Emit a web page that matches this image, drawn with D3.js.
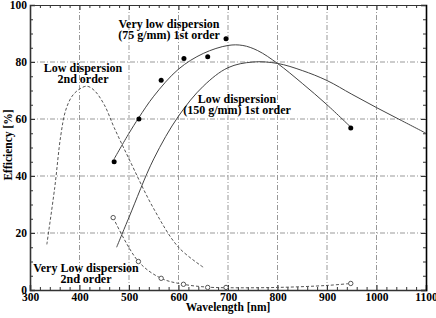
<!DOCTYPE html>
<html>
<head>
<meta charset="utf-8">
<script src="https://cdn.jsdelivr.net/npm/d3@7/dist/d3.min.js"></script>
<style>
  body { margin: 0; background: #fff; }
  text { font-family: "Liberation Serif", "Times New Roman", serif; font-weight: bold; fill: #000; }
</style>
</head>
<body>
<svg id="chart" width="436" height="318"></svg>
<script>
"use strict";

// tick values
var xTicks = [300, 400, 500, 600, 700, 800, 900, 1000, 1100],
    yTicks = [0, 20, 40, 60, 80, 100];

// Very low dispersion (75 g/mm) 1st order: measured points and fit
var vld1Points = [[470, 45], [520, 60], [565, 73.6], [611, 81.2], [659, 81.8], [696, 88.2], [948, 56.8]];
var vld1Curve = [[470, 46], [500, 55], [520, 60.5], [550, 68], [600, 77.5], [650, 83], [700, 85.8],
                 [730, 85.8], [760, 84], [800, 79.5], [850, 72.5], [900, 65], [950, 56.8]];

// Low dispersion (150 g/mm) 1st order: fit only
var ld1Curve = [[475, 15], [500, 25.5], [550, 46], [600, 61], [650, 71.5], [700, 78], [750, 80],
                [800, 79.5], [850, 77], [900, 73.5], [950, 68.7], [1000, 64], [1050, 59.5], [1100, 55]];

// Low dispersion 2nd order: fit only (dashed)
var ld2Curve = [[334, 16], [350, 36], [362, 54], [372, 63], [385, 68], [400, 70.5], [415, 71.5],
                [430, 70], [450, 65], [470, 57], [500, 46], [550, 28.5], [600, 15], [650, 8]];

// Very low dispersion 2nd order: measured points and fit (dashed)
var vld2Points = [[468, 25.4], [519, 10], [565, 4.1], [610, 2], [659, 0.9], [696, 0.9], [948, 2.3]];
var vld2Curve = [[468, 25.4], [519, 10], [565, 4.1], [610, 2], [659, 1], [700, 0.8], [800, 0.9],
                 [900, 1.6], [948, 2.3]];

var svg = d3.select("#chart"),
    plotLeft = 30, plotRight = 426, plotTop = 5, plotBottom = 290;

var x = d3.scaleLinear().domain([300, 1100]).range([plotLeft, plotRight]),
    y = d3.scaleLinear().domain([0, 100]).range([plotBottom, plotTop]);

var xMinor = d3.range(300, 1101, 20).filter(function(v) { return v % 100 !== 0; }),
    yMinor = d3.range(0, 101, 5).filter(function(v) { return v % 20 !== 0; });

// grid
var grid = svg.append("g")
    .attr("stroke", "#999")
    .attr("stroke-width", 1)
    .attr("stroke-dasharray", "5,2,1,2");

grid.selectAll("line.gx")
    .data(xTicks.slice(1, -1))
    .enter().append("line")
    .attr("x1", function(d) { return x(d); })
    .attr("x2", function(d) { return x(d); })
    .attr("y1", plotTop)
    .attr("y2", plotBottom);

grid.selectAll("line.gy")
    .data(yTicks.slice(1, -1))
    .enter().append("line")
    .attr("x1", plotLeft)
    .attr("x2", plotRight)
    .attr("y1", function(d) { return y(d); })
    .attr("y2", function(d) { return y(d); });

// axes, all with inward ticks
var axes = [
    { ax: d3.axisBottom(x), tr: "translate(0," + plotBottom + ")", minor: xMinor, pad: 3 },
    { ax: d3.axisTop(x), tr: "translate(0," + plotTop + ")", minor: xMinor, pad: 3 },
    { ax: d3.axisLeft(y), tr: "translate(" + plotLeft + ",0)", minor: yMinor, pad: 3 },
    { ax: d3.axisRight(y), tr: "translate(" + plotRight + ",0)", minor: yMinor, pad: 3 }
];

axes.forEach(function(a, i) {
    var isX = i < 2,
        major = svg.append("g")
            .attr("transform", a.tr)
            .call(a.ax.tickValues(isX ? xTicks : yTicks)
                  .tickSize(-5)
                  .tickPadding(a.pad)
                  .tickFormat(d3.format("d")));
    major.select(".domain").attr("stroke", i === 3 ? "#000" : "#333").attr("stroke-width", i === 1 ? 1 : 1.6);
    major.selectAll(".tick line").attr("stroke", "#333");
    if (i === 0 || i === 2) {
        major.selectAll(".tick text")
            .style("font-family", "'Liberation Serif', serif")
            .style("font-weight", "bold")
            .style("font-size", "11.5px")
            .attr("fill", "#000");
    } else {
        major.selectAll(".tick text").remove();
    }

    svg.append("g")
        .attr("transform", a.tr)
        .call(a.ax.tickValues(a.minor).tickSize(-3).tickFormat(""))
        .call(function(g) {
            g.select(".domain").remove();
            g.selectAll(".tick line").attr("stroke", "#333");
        });
});

// curves
var line = d3.line()
    .x(function(d) { return x(d[0]); })
    .y(function(d) { return y(d[1]); })
    .curve(d3.curveCatmullRom.alpha(0.5));

svg.append("path").datum(vld1Curve).attr("d", line)
    .attr("fill", "none").attr("stroke", "#444").attr("stroke-width", 1);
svg.append("path").datum(ld1Curve).attr("d", line)
    .attr("fill", "none").attr("stroke", "#444").attr("stroke-width", 1);
svg.append("path").datum(ld2Curve).attr("d", line)
    .attr("fill", "none").attr("stroke", "#555").attr("stroke-width", 1)
    .attr("stroke-dasharray", "3,2");
svg.append("path").datum(vld2Curve).attr("d", line)
    .attr("fill", "none").attr("stroke", "#555").attr("stroke-width", 1)
    .attr("stroke-dasharray", "3,2");

// markers
svg.selectAll("circle.filled")
    .data(vld1Points)
    .enter().append("circle")
    .attr("class", "filled")
    .attr("cx", function(d) { return x(d[0]); })
    .attr("cy", function(d) { return y(d[1]); })
    .attr("r", 2.5)
    .attr("fill", "#000");

svg.selectAll("circle.open")
    .data(vld2Points)
    .enter().append("circle")
    .attr("class", "open")
    .attr("cx", function(d) { return x(d[0]); })
    .attr("cy", function(d) { return y(d[1]); })
    .attr("r", 2.2)
    .attr("fill", "#fff")
    .attr("stroke", "#555")
    .attr("stroke-width", 1);

// annotations
var labels = [
    { cx: 169, y0: 28, lines: ["Very low dispersion", "(75 g/mm) 1st order"] },
    { cx: 83, y0: 72, lines: ["Low dispersion", "2nd order"] },
    { cx: 237, y0: 103, lines: ["Low dispersion", "(150 g/mm) 1st order"] },
    { cx: 86, y0: 272, lines: ["Very Low dispersion", "2nd order"] }
];

labels.forEach(function(l) {
    var t = svg.append("text")
        .attr("text-anchor", "middle")
        .style("font-size", "12px");
    l.lines.forEach(function(s, i) {
        t.append("tspan")
            .attr("x", l.cx)
            .attr("y", l.y0 + i * 11)
            .text(s);
    });
});

svg.append("text")
    .attr("x", x(700))
    .attr("y", 311)
    .attr("text-anchor", "middle")
    .style("font-size", "11.5px")
    .text("Wavelength [nm]");

svg.append("text")
    .attr("transform", "translate(12," + 145 + ") rotate(-90)")
    .attr("text-anchor", "middle")
    .style("font-size", "11.5px")
    .text("Efficiency [%]");
</script>
</body>
</html>
